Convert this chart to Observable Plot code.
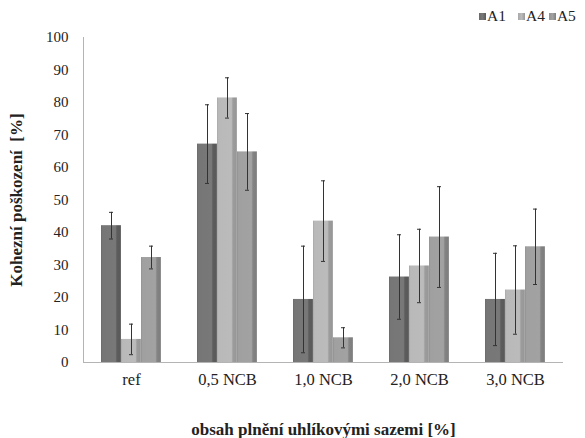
<!DOCTYPE html>
<html>
<head>
<meta charset="utf-8">
<script src="https://cdn.jsdelivr.net/npm/d3@7"></script>
<script src="https://cdn.jsdelivr.net/npm/@observablehq/plot@0.6"></script>
<style>
  html, body { margin: 0; padding: 0; background: #fff; }
  #chart { position: relative; width: 585px; height: 438px; color: #222; }
  #chart, #chart * { font-family: "Liberation Serif", "Times New Roman", serif !important; }
  #chart svg.plot { position: absolute; left: 0; top: 0; }
  #legend { position: absolute; top: 6px; left: 479px; display: flex; font-size: 15.5px; line-height: 20px; }
  #legend span.item { display: flex; align-items: center; }
  #legend span.sw { display: inline-block; width: 7px; height: 7px; margin-right: 1px; }
  g[aria-label="y-axis label"] text, g[aria-label="fx-axis label"] text { font-weight: bold; font-size: 17px; }
</style>
</head>
<body>
<svg width="0" height="0" style="position:absolute">
  <defs>
    <linearGradient id="gA1" x1="0" x2="1" y1="0" y2="0">
      <stop offset="0" stop-color="#6a6a6a"/>
      <stop offset="0.08" stop-color="#767676"/>
      <stop offset="0.72" stop-color="#787878"/>
      <stop offset="0.8" stop-color="#5c5c5c"/>
      <stop offset="0.93" stop-color="#5a5a5a"/>
      <stop offset="1" stop-color="#707070"/>
    </linearGradient>
    <linearGradient id="gA4" x1="0" x2="1" y1="0" y2="0">
      <stop offset="0" stop-color="#a8a8a8"/>
      <stop offset="0.08" stop-color="#b9b9b9"/>
      <stop offset="0.72" stop-color="#bbbbbb"/>
      <stop offset="0.8" stop-color="#9c9c9c"/>
      <stop offset="0.93" stop-color="#989898"/>
      <stop offset="1" stop-color="#adadad"/>
    </linearGradient>
    <linearGradient id="gA5" x1="0" x2="1" y1="0" y2="0">
      <stop offset="0" stop-color="#929292"/>
      <stop offset="0.08" stop-color="#a0a0a0"/>
      <stop offset="0.72" stop-color="#a2a2a2"/>
      <stop offset="0.8" stop-color="#838383"/>
      <stop offset="0.93" stop-color="#7f7f7f"/>
      <stop offset="1" stop-color="#959595"/>
    </linearGradient>
  </defs>
</svg>
<div id="chart">
  <div id="legend"></div>
</div>
<script>
// Filler content groups and sample series
const categories = ["ref", "0,5 NCB", "1,0 NCB", "2,0 NCB", "3,0 NCB"];
const series = ["A1", "A4", "A5"];

// Mean cohesive damage [%] per group
const valuesA1 = [42.1, 67.2, 19.4, 26.3, 19.4];
const valuesA4 = [7.1, 81.4, 43.5, 29.7, 22.3];
const valuesA5 = [32.3, 64.8, 7.6, 38.6, 35.6];

// Standard deviations for the error bars
const errorsA1 = [4.1, 12.1, 16.4, 13.0, 14.2];
const errorsA4 = [4.7, 6.2, 12.4, 11.3, 13.6];
const errorsA5 = [3.5, 11.8, 3.1, 15.5, 11.6];

const yTicks = [0, 10, 20, 30, 40, 50, 60, 70, 80, 90, 100];

const seriesValues = {A1: valuesA1, A4: valuesA4, A5: valuesA5};
const seriesErrors = {A1: errorsA1, A4: errorsA4, A5: errorsA5};

const rows = [];
categories.forEach((c, i) => {
  series.forEach(s => {
    const v = seriesValues[s][i], e = seriesErrors[s][i];
    rows.push({category: c, series: s, value: v, lo: v - e, hi: v + e});
  });
});

const fills = series.map(s => `url(#g${s})`);
const serifFont = '"Liberation Serif", "Times New Roman", serif';

const plot = Plot.plot({
  width: 585,
  height: 438,
  marginLeft: 83,
  marginRight: 22,
  marginTop: 37,
  marginBottom: 76,
  style: {fontFamily: serifFont, fontSize: "15px", color: "#222", background: "transparent"},
  fx: {domain: categories, padding: 0},
  x: {domain: series, paddingInner: 0, paddingOuter: 0.786, axis: null},
  y: {domain: [0, 100]},
  color: {domain: series, range: fills},
  marks: [
    Plot.barY(rows, {fx: "category", x: "series", y: "value", fill: "series"}),
    Plot.ruleX(rows, {fx: "category", x: "series", y1: "lo", y2: "hi", stroke: "#333", strokeWidth: 1}),
    Plot.tickY(rows, {fx: "category", x: "series", y: "hi", stroke: "#333", insetLeft: 8, insetRight: 8}),
    Plot.tickY(rows, {fx: "category", x: "series", y: "lo", stroke: "#333", insetLeft: 8, insetRight: 8}),
    Plot.ruleY([0], {stroke: "#b4b4b4"}),
    Plot.frame({anchor: "left", facetAnchor: "left", stroke: "#b4b4b4"}),
    Plot.axisY(yTicks, {anchor: "left", tickSize: 0, tickPadding: 15, fontSize: 15,
      label: "Kohezní poškození  [%]", labelAnchor: "center", labelArrow: "none", labelOffset: 74}),
    Plot.axisFx({anchor: "bottom", tickSize: 0, tickPadding: 11, fontSize: 16.5,
      label: "obsah plnění uhlíkovými sazemi [%]", labelAnchor: "center", labelOffset: 72})
  ]
});
plot.classList.add("plot");
plot.setAttribute("font-family", serifFont);
document.getElementById("chart").appendChild(plot);

// Legend above the plot area, top right
const legend = d3.select("#legend");
const swatches = ["#6a6a6a,#787878,#5a5a5a", "#a8a8a8,#bbbbbb,#989898", "#929292,#a2a2a2,#7f7f7f"];
const legendGaps = [12, 4, 0];
series.forEach((s, i) => {
  const item = legend.append("span").attr("class", "item").style("margin-right", `${legendGaps[i]}px`);
  item.append("span").attr("class", "sw").style("background", `linear-gradient(to right, ${swatches[i]})`);
  item.append("span").text(s);
});
</script>
</body>
</html>
